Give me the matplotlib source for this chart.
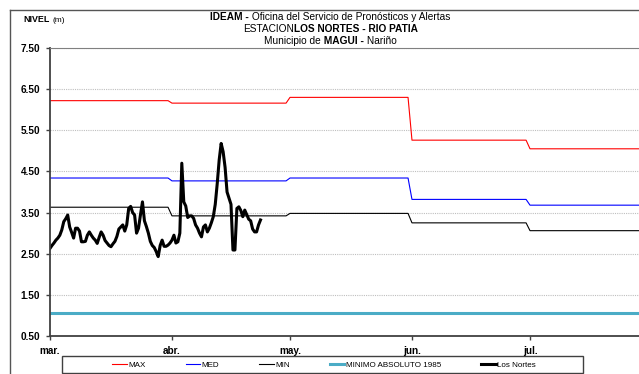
import matplotlib
matplotlib.use("Agg")
import matplotlib.pyplot as plt
import matplotlib.dates as mdates
from matplotlib.lines import Line2D
from matplotlib.patches import Rectangle
import numpy as np
import pandas as pd

plt.rcParams['font.family'] = ['Liberation Sans', 'DejaVu Sans']

# niveles de referencia por mes (m)
meses = ['mar.', 'abr.', 'may.', 'jun.', 'jul.']
nivel_max = [6.22, 6.16, 6.30, 5.26, 5.05]
nivel_med = [4.34, 4.27, 4.34, 3.82, 3.68]
nivel_min = [3.63, 3.42, 3.48, 3.25, 3.06]
minimo_1985 = 1.05

# lecturas de la estacion, dos por dia desde el 1 de marzo
los_nortes = [
    2.63, 2.70, 2.76, 2.83, 2.88, 2.95, 3.08, 3.28, 3.35, 3.44,
    3.15, 3.02, 2.88, 3.12, 3.12, 3.05, 2.79, 2.79, 2.80, 2.95,
    3.03, 2.95, 2.88, 2.83, 2.75, 2.90, 3.03, 2.95, 2.82, 2.76,
    2.70, 2.67, 2.74, 2.80, 2.92, 3.10, 3.15, 3.20, 3.05, 3.20,
    3.60, 3.65, 3.50, 3.44, 3.00, 3.12, 3.45, 3.76, 3.30, 3.16,
    3.00, 2.80, 2.70, 2.65, 2.55, 2.43, 2.70, 2.83, 2.68, 2.68,
    2.71, 2.76, 2.83, 2.95, 2.76, 2.79, 3.00, 4.70, 3.76, 3.66,
    3.38, 3.42, 3.42, 3.36, 3.20, 3.12, 3.00, 2.91, 3.15, 3.20,
    3.03, 3.12, 3.25, 3.40, 3.70, 4.20, 4.78, 5.18, 4.98, 4.60,
    4.00, 3.85, 3.70, 2.59, 2.59, 3.60, 3.64, 3.55, 3.40, 3.56,
    3.45, 3.34, 3.30, 3.10, 3.03, 3.03, 3.20, 3.32,
]

inicio_meses = pd.date_range('2013-03-01', periods=len(meses), freq='MS')
dias = pd.date_range('2013-03-01', '2013-07-31', freq='D')
mes_idx = dias.month - 3
serie_max = [nivel_max[i] for i in mes_idx]
serie_med = [nivel_med[i] for i in mes_idx]
serie_min = [nivel_min[i] for i in mes_idx]
lecturas = pd.date_range('2013-03-01', periods=len(los_nortes), freq='12h')

W, H = 639, 374
fig = plt.figure(figsize=(W / 100, H / 100), dpi=100)
ax = fig.add_axes([50 / W, 1 - 336 / H, 1 - 50 / W, 288 / H])

ax.plot(dias, [minimo_1985] * len(dias), color='#4BACC6', lw=2.2)
ax.plot(dias, serie_max, color='#FF0000', lw=0.8)
ax.plot(dias, serie_med, color='#0000FF', lw=0.8)
ax.plot(dias, serie_min, color='black', lw=0.8)
ax.plot(lecturas, los_nortes, color='black', lw=2.2, solid_joinstyle='round')

x0 = mdates.date2num(dias[0])
ax.set_xlim(x0, x0 + 149.7)
ax.set_ylim(0.5, 7.5)
yt = np.arange(0.5, 7.6, 1.0)
ax.set_yticks(yt)
ax.set_yticklabels([f'{v:.2f}' for v in yt], fontweight='bold', fontsize=7.2)
ax.set_xticks(inicio_meses)
ax.set_xticklabels(meses, fontweight='bold', fontsize=7.2)
ax.tick_params(axis='y', length=3, width=1, color='#404040', pad=4)
ax.tick_params(axis='x', length=3, width=1, color='#404040', pad=4)
ax.yaxis.grid(True, color='#BFBFBF', linestyle=(0, (1, 1)), lw=0.8)
ax.set_axisbelow(True)
for lado in ['left', 'bottom']:
    ax.spines[lado].set_color('#404040')
    ax.spines[lado].set_linewidth(1.3)
ax.spines['top'].set_color('#808080')
ax.spines['top'].set_linewidth(0.8)
ax.spines['right'].set_visible(False)

# marco exterior
fig.add_artist(Line2D([10 / W, 10 / W], [0, 1 - 9.5 / H], color='#555555', lw=1))
fig.add_artist(Line2D([10 / W, 1], [1 - 9.5 / H] * 2, color='#555555', lw=1))

# titulo con partes en negrita
renderer = fig.canvas.get_renderer()


def linea_titulo(partes, y_px, cx=330.5, size=7.3):
    textos = [fig.text(0, 1 - y_px / H, s, fontsize=size, fontweight=w,
                       va='center', ha='left') for s, w in partes]
    anchos = [t.get_window_extent(renderer).width for t in textos]
    x = cx - sum(anchos) / 2
    for t, a in zip(textos, anchos):
        t.set_x(x / W)
        x += a


linea_titulo([('IDEAM -', 'bold'),
              (' Oficina del Servicio de Pronósticos y Alertas', 'normal')], 17)
linea_titulo([('ESTACION', 'normal'), ('LOS NORTES - RIO PATIA', 'bold')], 29)
linea_titulo([('Municipio de', 'normal'), (' MAGUI -', 'bold'),
              (' Nariño', 'normal')], 40.5)

t1 = fig.text(23 / W, 1 - 20 / H, 'NIVEL', fontsize=6.4, fontweight='bold',
              va='center', ha='left')
fig.text((23 + t1.get_window_extent(renderer).width + 3) / W, 1 - 20 / H, '(m)',
         fontsize=6, va='center', ha='left')

# leyenda
handles = [
    Line2D([], [], color='#FF0000', lw=0.8),
    Line2D([], [], color='#0000FF', lw=0.8),
    Line2D([], [], color='black', lw=0.8),
    Line2D([], [], color='#4BACC6', lw=2.2),
    Line2D([], [], color='black', lw=2.2),
]
etiquetas = ['MAX', 'MED', 'MIN', 'MINIMO ABSOLUTO 1985', 'Los Nortes']
fig.legend(handles, etiquetas, loc='center', bbox_to_anchor=(324 / W, 1 - 365 / H),
           ncol=5, frameon=False, fontsize=5.8, handlelength=1.8,
           handletextpad=0.15, columnspacing=5.0, borderpad=0)
fig.add_artist(Rectangle((62 / W, 1 - 373 / H), (583 - 62) / W, 17 / H,
                         transform=fig.transFigure, fill=False,
                         ec='#404040', lw=1.0))

fig.savefig('out.png', dpi=100)
